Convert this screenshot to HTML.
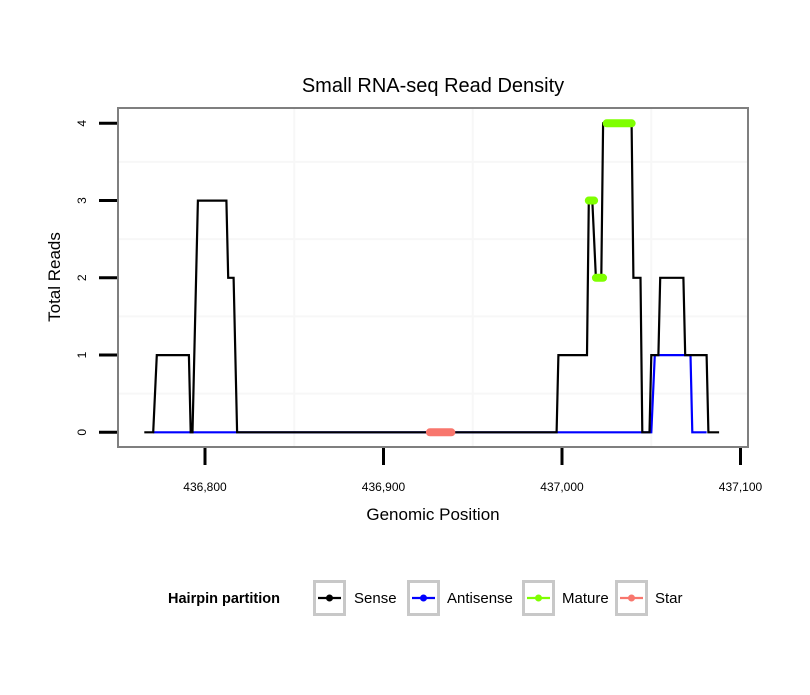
<!DOCTYPE html>
<html><head><meta charset="utf-8"><style>
body{margin:0;background:#fff;}
svg text{font-family:"Liberation Sans",Arial,sans-serif;}
</style></head><body>
<svg id="chart" width="810" height="690" viewBox="0 0 810 690" xmlns="http://www.w3.org/2000/svg">
<rect x="0" y="0" width="810" height="690" fill="#fff"/>
<text x="433" y="92" font-size="20" text-anchor="middle" fill="#000">Small RNA-seq Read Density</text>
<rect x="118" y="108" width="630" height="339" fill="#fff"/>
<g id="grid"></g>
<g id="series"></g>
<rect x="118" y="108" width="630" height="339" fill="none" stroke="#7f7f7f" stroke-width="2"/>
<g id="axes"></g>
<text x="433" y="520" font-size="17" text-anchor="middle">Genomic Position</text>
<text x="0" y="0" font-size="17" text-anchor="middle" transform="translate(60,277) rotate(-90)">Total Reads</text>
<g>
<text x="168" y="603" font-size="14.5" font-weight="bold">Hairpin partition</text>
<g id="legend"></g>
</g>
</svg>
<script>
const xTicks=[436800,436900,437000,437100];
const xTickLabels=["436,800","436,900","437,000","437,100"];
const yTicks=[0,1,2,3,4];
const sensePos=[436766,436771,436773,436791,436792,436793,436794,436796,436812,436813,436816,436818,436997,436998,437014,437015,437017,437019,437022,437023,437039,437040,437044,437045,437049,437050,437054,437055,437068,437069,437081,437082,437088];
const senseVal=[0,0,1,1,0,0,1,3,3,2,2,0,0,1,1,3,3,2,2,4,4,2,2,0,0,1,1,2,2,1,1,0,0];
const antiPos=[436771,437050,437052,437072,437073,437081];
const antiVal=[0,0,1,1,0,0];
const matureStart=[437015,437019,437025];
const matureEnd=[437018,437023,437039];
const matureVal=[3,2,4];
const starStart=[436926];
const starEnd=[436938];
const starVal=[0];
const legendLabels=["Sense","Antisense","Mature","Star"];
const legendColors=["#000000","#0000ff","#7fff00","#f8766d"];

const NS="http://www.w3.org/2000/svg";
function X(v){return 205+(v-436800)*1.785;}
function Y(v){return 432.3-v*77.25;}
function mk(tag,attrs,parent){const e=document.createElementNS(NS,tag);for(const k in attrs)e.setAttribute(k,attrs[k]);parent.appendChild(e);return e;}
const grid=document.getElementById('grid'),series=document.getElementById('series'),axes=document.getElementById('axes'),legend=document.getElementById('legend');
for(let i=0;i<yTicks.length-1;i++){const v=(yTicks[i]+yTicks[i+1])/2;const l=mk('line',{x1:119,x2:747,y1:Y(v),y2:Y(v),stroke:'#f7f7f7','stroke-width':2},grid);

}
for(let i=0;i<xTicks.length-1;i++){const v=(xTicks[i]+xTicks[i+1])/2;if(X(v)>747)continue;const l=mk('line',{x1:X(v),x2:X(v),y1:109,y2:446,stroke:'#f7f7f7','stroke-width':2},grid);

}
function poly(pos,val,color,name){const p=pos.map((d,i)=>X(d).toFixed(1)+','+Y(val[i]).toFixed(1)).join(' ');const e=mk('polyline',{points:p,fill:'none',stroke:color,'stroke-width':2.2,'stroke-linejoin':'miter'},series);

}
poly(antiPos,antiVal,'#0000ff','antisense-line');
poly(sensePos,senseVal,'#000000','sense-line');
for(let i=0;i<starStart.length;i++){const e=mk('line',{x1:X(starStart[i]),x2:X(starEnd[i]),y1:Y(starVal[i]),y2:Y(starVal[i]),stroke:'#f8766d','stroke-width':8,'stroke-linecap':'round'},series);

}
for(let i=0;i<matureStart.length;i++){const e=mk('line',{x1:X(matureStart[i]),x2:X(matureEnd[i]),y1:Y(matureVal[i]),y2:Y(matureVal[i]),stroke:'#7fff00','stroke-width':8,'stroke-linecap':'round'},series);

}
xTicks.forEach((v,i)=>{const t=mk('line',{x1:X(v),x2:X(v),y1:448,y2:465,stroke:'#000','stroke-width':3},axes);


const tx=mk('text',{x:X(v),y:491,'font-size':12,'text-anchor':'middle'},axes);tx.textContent=xTickLabels[i];

});
yTicks.forEach(v=>{const t=mk('line',{x1:99,x2:117,y1:Y(v),y2:Y(v),stroke:'#000','stroke-width':3},axes);


const tx=mk('text',{x:0,y:0,'font-size':12,'text-anchor':'middle',transform:'translate(86,'+Y(v)+') rotate(-90)'},axes);tx.textContent=String(v);

});
const boxX=[313,407,522,615],textX=[354,447,562,655];
legendLabels.forEach((lab,i)=>{const g=mk('g',{},legend);


mk('rect',{x:boxX[i]+1.5,y:581.5,width:30,height:33,fill:'#fff',stroke:'#c8c8c8','stroke-width':3},g);
mk('line',{x1:boxX[i]+5,x2:boxX[i]+28,y1:598,y2:598,stroke:legendColors[i],'stroke-width':2.2},g);
mk('circle',{cx:boxX[i]+16.5,cy:598,r:3.5,fill:legendColors[i]},g);
const t=mk('text',{x:textX[i],y:603,'font-size':15},g);t.textContent=lab;});
</script>
</body></html>
